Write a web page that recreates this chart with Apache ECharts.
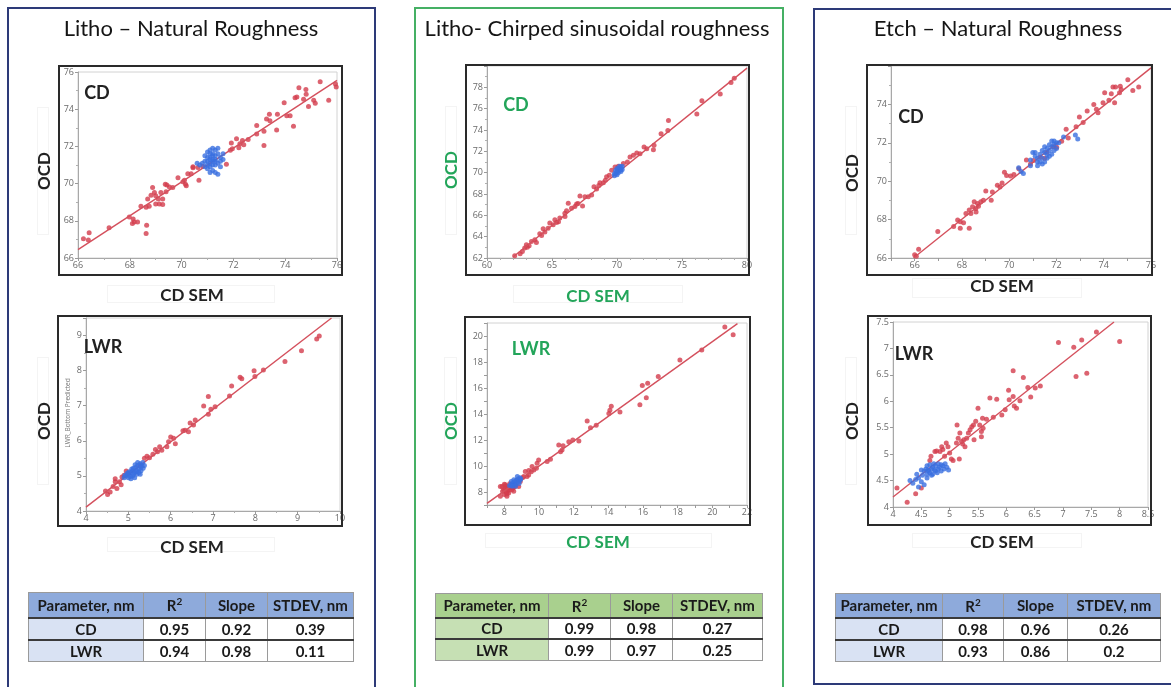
<!DOCTYPE html>
<html><head><meta charset="utf-8">
<script src="https://cdn.jsdelivr.net/npm/echarts@6/dist/echarts.min.js"></script>
<style>
body{margin:0;background:#fff;font-family:Lato,'Open Sans',sans-serif;}
#wrap{position:relative;width:1171px;height:687px;overflow:hidden;background:#fff;}
#chart{position:absolute;left:0;top:0;width:1171px;height:687px;}
.c{position:absolute;transform:translate(-50%,-50%);white-space:nowrap;line-height:1;}
.panel{position:absolute;box-sizing:border-box;}
.frame{position:absolute;box-sizing:border-box;border:2px solid #2a2a2a;pointer-events:none;}
.faint{position:absolute;box-sizing:border-box;border:1px solid #f4f4f4;}
.title{font-size:22px;color:#151515;}
.lab{font-weight:bold;font-size:18px;color:#222;}
.ax{font-weight:bold;font-size:17px;color:#222;}
.rot{transform:translate(-50%,-50%) rotate(-90deg);}
.green{color:#23a55a;}
table.t{position:absolute;border-collapse:collapse;font-weight:bold;font-size:15px;color:#1a1a1a;table-layout:fixed;}
table.t td{text-align:center;padding:0;border:1px solid #9a9a9a;background:#fff;white-space:nowrap;overflow:hidden;}
table.t tr.h td{border-bottom:2px solid #3a3a3a;}
table.t tr.r1 td{border-bottom:2px solid #3a3a3a;}
</style></head>
<body><div id="wrap"><div id="chart"></div></div>
<script>
// ---------------- data ----------------
const panelTitles = ['Litho \u2013 Natural Roughness', 'Litho- Chirped sinusoidal roughness', 'Etch \u2013 Natural Roughness'];
const tableHeader = ['Parameter, nm', 'R<sup style="font-size:10px">2</sup>', 'Slope', 'STDEV, nm'];
const tableParams = ['CD', 'LWR'];
const tableLithoNat = [['0.95','0.92','0.39'],['0.94','0.98','0.11']];
const tableLithoChirp = [['0.99','0.98','0.27'],['0.99','0.97','0.25']];
const tableEtchNat = [['0.98','0.96','0.26'],['0.93','0.86','0.2']];

const litCdRed = [[66.21,67.04],[66.43,67.36],[66.4,66.97],[67.2,67.62],[67.98,68.2],[68.13,68.1],[68.1,67.85],[68.17,67.94],[68.3,67.94],[68.65,67.76],[68.63,67.32],[68.63,68.73],[68.43,68.78],[68.75,68.78],[68.69,69.17],[68.88,69.79],[68.95,69.52],[69.0,69.35],[68.82,69.38],[69.1,69.17],[69.2,69.52],[69.27,69.17],[69.4,69.56],[69.14,68.9],[69.0,68.9],[69.27,68.87],[69.37,69.96],[69.43,69.93],[69.53,69.82],[69.66,69.79],[69.86,70.32],[70.05,70.1],[70.15,69.96],[70.18,69.88],[70.11,70.18],[70.24,70.53],[70.37,70.53],[70.44,70.85],[70.67,70.18],[70.82,70.93],[70.44,70.9],[70.63,70.87],[71.73,71.04],[71.88,71.79],[71.96,71.88],[71.92,72.18],[72.12,72.41],[72.25,72.14],[72.35,72.32],[72.21,71.93],[72.4,72.09],[72.57,72.37],[72.9,72.67],[72.9,73.12],[73.18,72.81],[73.18,72.05],[73.28,73.47],[73.39,73.73],[73.41,73.38],[73.67,72.88],[73.7,73.73],[73.96,74.35],[74.06,73.65],[74.19,73.65],[74.32,73.08],[74.38,74.62],[74.45,74.65],[74.53,75.15],[74.8,75.06],[74.81,74.8],[74.71,74.53],[74.9,74.14],[75.1,74.48],[75.16,74.32],[75.35,75.47],[75.68,74.48],[75.94,75.36],[75.97,75.2]];
const litCdBlue = [[71.0,71.2],[71.1,71.4],[71.2,71.0],[71.3,71.3],[71.1,70.9],[71.2,71.6],[71.0,71.7],[71.3,71.8],[71.4,71.1],[71.2,71.3],[71.1,71.1],[71.3,71.5],[71.0,70.8],[71.1,70.6],[71.4,70.5],[70.7,71.0],[70.8,71.1],[70.9,71.2],[71.5,71.4],[71.5,71.2],[71.6,71.3],[71.2,71.9],[71.1,71.8],[70.9,71.5],[71.0,71.4],[71.3,71.0],[71.2,70.7],[71.4,71.6],[71.2,71.2],[71.1,71.3],[71.3,71.2],[70.6,71.1],[71.5,70.9],[71.0,71.0],[71.4,71.9],[71.2,71.5],[70.9,70.9],[71.3,70.6],[71.6,71.6],[71.1,71.6]];
const litCdFit = [[66,66.45],[76,75.55]];

const litLwrRed = [[4.46,4.57],[4.51,4.47],[4.57,4.54],[4.64,4.7],[4.69,4.83],[4.69,4.92],[4.73,4.64],[4.79,4.83],[4.83,4.75],[4.85,4.97],[4.9,5.02],[4.95,5.14],[5.0,5.07],[5.28,5.3],[5.38,5.5],[5.44,5.56],[5.5,5.52],[5.58,5.62],[5.64,5.75],[5.69,5.69],[5.74,5.83],[5.79,5.73],[5.91,5.83],[5.95,5.97],[6.0,6.11],[6.07,6.07],[6.11,5.92],[6.29,6.29],[6.34,6.3],[6.42,6.26],[6.46,6.51],[6.54,6.45],[6.58,6.59],[6.78,6.99],[6.89,7.26],[6.89,6.76],[6.95,6.9],[7.05,6.97],[7.39,7.28],[7.44,7.56],[7.64,7.81],[7.68,7.77],[7.97,8.0],[7.99,7.83],[8.19,8.02],[8.7,8.26],[9.09,8.57],[9.45,8.9],[9.51,8.99]];
const litLwrBlue = [[4.9,4.95],[4.95,5.0],[5.0,5.05],[5.0,4.95],[5.05,5.1],[5.05,4.98],[5.1,5.15],[5.1,5.0],[5.12,5.22],[5.15,5.1],[5.15,4.95],[5.18,5.25],[5.2,5.15],[5.2,5.05],[5.22,5.3],[5.25,5.2],[5.25,5.1],[5.28,5.35],[5.3,5.25],[5.3,5.15],[5.32,5.3],[5.35,5.22],[5.38,5.3],[5.08,5.2],[5.02,5.12],[4.98,5.08],[5.12,5.05],[5.18,5.12],[5.22,5.38],[5.28,5.05],[4.92,5.02],[5.06,4.92],[5.16,5.32],[5.34,5.38]];
const litLwrFit = [[4,4.11],[9.8,9.5]];

const chirpCdRed = [[62.13,62.2],[62.72,62.62],[62.9,62.93],[63.03,63.24],[63.24,63.15],[63.42,63.55],[63.68,63.71],[63.8,63.46],[64.06,64.27],[64.32,64.74],[64.45,64.43],[64.7,64.8],[64.83,65.27],[65.09,65.11],[65.22,65.58],[65.35,65.33],[65.6,65.74],[65.99,66.2],[66.12,66.44],[66.25,67.13],[66.5,66.66],[66.76,66.82],[66.89,67.07],[67.15,67.81],[67.35,66.88],[67.53,67.75],[67.79,67.75],[68.05,67.9],[68.23,68.68],[68.43,68.46],[68.69,69.05],[68.95,69.05],[69.2,69.61],[69.41,69.76],[69.59,70.23],[69.85,70.54],[70.1,70.6],[70.49,70.85],[70.8,71.0],[71.0,71.47],[71.26,71.63],[71.52,71.84],[71.77,71.78],[72.08,72.4],[72.29,72.25],[72.8,72.16],[72.85,72.56],[73.39,73.65],[73.91,73.96],[73.96,74.89],[76.14,75.5],[76.53,76.75],[77.94,77.37],[78.77,78.46],[79.02,78.86],[62.55,62.4],[63.1,63.0],[64.2,64.1],[65.5,65.4],[66.0,65.9],[67.0,67.1],[68.6,68.8],[69.1,69.3]];
const chirpCdBlue = [[69.8,69.7],[69.9,69.9],[70.0,70.1],[70.1,70.3],[70.2,70.4],[70.3,70.5],[70.4,70.6],[70.0,69.8],[70.1,70.0],[70.2,70.2],[70.3,70.3],[69.9,70.2],[70.4,70.3],[70.2,70.6],[69.8,69.9],[70.0,70.4],[70.3,70.1]];
const chirpCdFit = [[62,62.1],[80,79.8]];

const chirpLwrRed = [[7.77,7.67],[7.87,8.43],[7.96,8.18],[8.06,8.56],[8.12,7.97],[8.19,8.31],[8.25,7.92],[8.35,8.43],[8.44,8.18],[8.54,8.05],[8.0,7.8],[8.31,8.64],[8.92,8.81],[9.12,9.2],[9.21,9.58],[9.31,9.2],[9.41,9.65],[9.6,9.96],[9.7,9.7],[9.85,9.83],[9.89,10.21],[9.98,10.47],[10.47,10.34],[10.66,10.52],[11.14,11.61],[11.24,11.1],[11.39,11.56],[11.33,11.23],[11.72,11.87],[11.95,12.0],[12.3,11.92],[12.78,13.47],[12.97,12.94],[13.3,13.14],[14.03,14.03],[14.09,14.28],[14.17,14.59],[14.67,14.16],[15.82,14.72],[15.96,16.19],[16.19,15.25],[16.27,16.37],[16.88,16.88],[18.13,18.15],[19.39,18.92],[20.72,20.7],[21.2,20.09],[7.77,8.43],[8.15,7.67],[8.64,8.56],[8.83,8.43],[8.05,8.3],[8.2,8.1],[8.1,8.45],[8.3,8.2],[7.9,8.05],[8.4,8.35],[8.15,7.85],[8.5,8.3],[8.0,8.6],[8.6,8.4],[9.05,9.1],[9.4,9.3],[9.55,9.55]];
const chirpLwrBlue = [[8.3,8.5],[8.4,8.6],[8.5,8.7],[8.5,8.5],[8.6,8.8],[8.6,8.6],[8.7,8.9],[8.7,8.7],[8.8,9.0],[8.8,8.8],[8.9,9.1],[8.9,8.9],[8.4,8.8],[8.55,8.95],[8.75,9.2],[8.85,8.65],[8.65,8.45],[8.45,8.45],[8.95,9.0]];
const chirpLwrFit = [[7,7.12],[21.45,20.95]];

const etchCdRed = [[66.0,66.17],[66.17,66.46],[66.07,66.09],[66.98,67.38],[67.65,67.64],[67.82,67.98],[67.93,67.89],[68.07,67.84],[67.93,67.55],[68.31,67.55],[68.17,68.32],[68.31,68.5],[68.38,68.32],[68.45,68.67],[68.52,68.93],[68.59,68.58],[68.66,68.84],[68.8,68.93],[68.91,69.01],[69.01,69.49],[69.24,69.01],[69.29,69.44],[69.5,69.79],[69.61,69.7],[69.8,70.47],[69.89,70.3],[70.06,70.27],[70.2,70.35],[70.41,70.65],[70.73,71.11],[71.03,71.08],[71.31,71.25],[71.59,71.51],[71.87,71.8],[72.01,71.77],[72.22,72.08],[72.41,72.71],[72.5,72.25],[72.83,72.83],[72.97,73.35],[73.13,73.06],[73.3,73.66],[73.58,74.0],[73.69,73.75],[73.76,73.57],[73.97,74.09],[74.04,74.61],[74.22,74.21],[74.32,74.55],[74.46,74.09],[74.5,74.9],[74.67,74.61],[74.7,74.95],[75.02,75.29],[75.23,74.73],[75.48,74.9],[74.39,74.9],[74.74,74.78],[68.6,68.4],[68.7,68.7],[69.7,69.9],[70.9,70.9],[71.5,71.2]];
const etchCdBlue = [[70.5,70.5],[70.4,70.7],[70.6,70.4],[70.9,71.1],[71.0,71.5],[71.1,71.3],[71.2,71.0],[71.2,71.2],[71.3,71.4],[71.4,71.6],[71.4,71.2],[71.5,71.5],[71.5,71.8],[71.6,71.4],[71.6,71.7],[71.7,71.9],[71.7,71.6],[71.8,71.8],[71.8,72.1],[71.9,71.9],[71.9,72.1],[72.0,72.0],[72.0,71.7],[71.3,71.0],[71.2,70.8],[71.6,71.2],[71.8,71.4],[72.3,72.3],[72.8,72.4],[72.9,72.2],[71.1,71.5],[70.9,70.8],[71.7,71.3],[72.1,72.0],[71.5,71.0],[71.4,70.9],[71.9,71.6]];
const etchCdFit = [[65.95,66],[76,75.9]];

const etchLwrRed = [[4.07,4.36],[4.25,4.09],[4.4,4.25],[4.5,4.36],[4.65,4.88],[4.67,4.96],[4.74,5.05],[4.77,5.06],[4.83,5.05],[4.86,5.14],[4.88,5.09],[4.91,4.96],[4.94,5.21],[4.97,5.14],[5.0,5.02],[5.03,4.91],[5.06,4.88],[5.12,5.21],[5.13,5.55],[5.15,5.3],[5.17,4.91],[5.18,5.4],[5.21,5.24],[5.23,5.19],[5.25,5.27],[5.27,5.14],[5.3,5.3],[5.33,5.4],[5.36,5.46],[5.39,5.52],[5.42,5.55],[5.43,5.27],[5.46,5.62],[5.5,5.87],[5.53,5.55],[5.56,5.43],[5.56,5.33],[5.59,5.49],[5.58,5.68],[5.65,5.66],[5.71,6.06],[5.77,5.7],[5.83,6.04],[5.92,5.74],[5.98,5.84],[6.04,6.21],[6.05,6.03],[6.12,6.58],[6.12,6.09],[6.14,5.91],[6.18,5.87],[6.24,6.01],[6.3,6.45],[6.38,6.26],[6.43,6.08],[6.51,6.25],[6.6,6.29],[6.92,7.11],[7.19,7.02],[7.23,6.47],[7.33,7.16],[7.42,6.53],[7.59,7.31],[8.0,7.13]];
const etchLwrBlue = [[4.3,4.5],[4.35,4.45],[4.4,4.52],[4.42,4.62],[4.45,4.55],[4.5,4.48],[4.52,4.6],[4.55,4.42],[4.55,4.68],[4.58,4.72],[4.6,4.62],[4.6,4.78],[4.62,4.7],[4.65,4.65],[4.65,4.8],[4.68,4.72],[4.7,4.62],[4.7,4.75],[4.72,4.82],[4.75,4.68],[4.75,4.78],[4.78,4.65],[4.8,4.72],[4.8,4.82],[4.82,4.75],[4.85,4.68],[4.85,4.8],[4.88,4.78],[4.9,4.72],[4.92,4.82],[4.95,4.75],[4.98,4.7],[4.6,4.55],[4.5,4.7],[4.45,4.38],[4.68,4.6],[4.73,4.7],[4.63,4.68]];
const etchLwrFit = [[4,4.19],[7.9,7.5]];

// ---------------- layout ----------------
const RED = '#d33c4c', BLUE = '#3a6fe0', LINE = '#d4505d';
const isInt = v => Math.abs(v - Math.round(v)) < 1e-9;
const isEven = v => isInt(v) && Math.round(v) % 2 === 0;
const plots = [
  {grid:{left:78,top:72,width:259,height:186}, x:{min:66,max:76,interval:2,minor:2}, y:{min:66,max:76,interval:2,minor:2}, red:litCdRed, blue:litCdBlue, fit:litCdFit},
  {grid:{left:86,top:318,width:254,height:193}, x:{min:4,max:10,interval:1,minor:2}, y:{min:4,max:9.5,interval:1,minor:2,fmt:isInt}, red:litLwrRed, blue:litLwrBlue, fit:litLwrFit},
  {grid:{left:487,top:66,width:260,height:192}, x:{min:60,max:80,interval:5,minor:5}, y:{min:62,max:80,interval:2,minor:2,fmt:v=>v<79}, red:chirpCdRed, blue:chirpCdBlue, fit:chirpCdFit},
  {grid:{left:487,top:323,width:260,height:182}, x:{min:7,max:22,interval:1,fmt:isEven}, y:{min:7,max:21,interval:1,fmt:isEven}, red:chirpLwrRed, blue:chirpLwrBlue, fit:chirpLwrFit},
  {grid:{left:891,top:66,width:260,height:192}, x:{min:65,max:76,interval:1,fmt:isEven}, y:{min:66,max:76,interval:2,minor:2,fmt:v=>v<75}, red:etchCdRed, blue:etchCdBlue, fit:etchCdFit},
  {grid:{left:893,top:322,width:255,height:185}, x:{min:4,max:8.5,interval:0.5}, y:{min:4,max:7.5,interval:0.5}, red:etchLwrRed, blue:etchLwrBlue, fit:etchLwrFit}
];

function axis(a, i, dim) {
  return {
    type:'value', gridIndex:i, min:a.min, max:a.max, interval:a.interval,
    axisLine:{show:true, onZero:false, lineStyle:{color:'#a8a8a8', width:1}},
    axisTick:{show:true, inside:false, length:3, lineStyle:{color:'#9a9a9a'}},
    minorTick:{show:!!a.minor, splitNumber:a.minor||5, length:2, lineStyle:{color:'#b0b0b0'}},
    splitLine:{show:false},
    axisLabel:{fontSize:9, color:'#6a6a6a', fontFamily:'Open Sans', margin:dim==='x'?3:4,
      formatter: v => (a.fmt && !a.fmt(v)) ? '' : String(+v.toFixed(2))}
  };
}

const option = {animation:false, grid:[], xAxis:[], yAxis:[], series:[]};
plots.forEach((p, i) => {
  option.grid.push(Object.assign({show:true, borderColor:'#d2d2d2', borderWidth:1, backgroundColor:'#fff'}, p.grid));
  option.xAxis.push(axis(p.x, i, 'x'));
  option.yAxis.push(axis(p.y, i, 'y'));
  option.series.push({type:'scatter', xAxisIndex:i, yAxisIndex:i, data:p.red, symbolSize:5, itemStyle:{color:RED}, silent:true, z:2});
  option.series.push({type:'line', xAxisIndex:i, yAxisIndex:i, data:p.fit, showSymbol:false, symbol:'none', lineStyle:{color:LINE, width:1.4}, silent:true, z:3});
  option.series.push({type:'scatter', xAxisIndex:i, yAxisIndex:i, data:p.blue, symbolSize:5, itemStyle:{color:BLUE}, silent:true, z:4});
});
echarts.init(document.getElementById('chart'), null, {renderer:'canvas'}).setOption(option);

// ---------------- overlays ----------------
const wrap = document.getElementById('wrap');
function el(tag, cls, style, html) {
  const d = document.createElement(tag); if (cls) d.className = cls;
  Object.assign(d.style, style); if (html !== undefined) d.innerHTML = html; wrap.appendChild(d); return d;
}
// panels
el('div','panel',{left:'7px',top:'7px',width:'369px',height:'720px',border:'2px solid #2d3a78'});
el('div','panel',{left:'414px',top:'7px',width:'370px',height:'720px',border:'2px solid #45b064'});
el('div','panel',{left:'813px',top:'8px',width:'380px',height:'677px',border:'2px solid #2d3a78'});
// titles
el('div','c title',{left:'191px',top:'28px'}, panelTitles[0]);
el('div','c title',{left:'597px',top:'28px'}, panelTitles[1]);
el('div','c title',{left:'998px',top:'28px'}, panelTitles[2]);
// faint label boxes
[[37,107,12,128],[37,357,12,128],[445,106,12,129],[444,357,13,128],[845,106,12,129],[845,357,12,128],
 [107,285,168,18],[107,537,168,15],[513,285,170,18],[485,533,227,15],[912,278,170,20],[912,533,170,15]]
 .forEach(b => el('div','faint',{left:b[0]+'px',top:b[1]+'px',width:b[2]+'px',height:b[3]+'px'}));
// frames
[[58,65,285,211],[57,315,286,212],[465,64,285,212],[464,316,287,210],[866,64,287,212],[867,315,285,211]]
 .forEach(f => el('div','frame',{left:f[0]+'px',top:f[1]+'px',width:f[2]+'px',height:f[3]+'px'}));
// axis titles & inner labels
const labs = [
  ['OCD','ax rot',43,171],['OCD','ax rot',43,421],['CD SEM','ax',192,294],['CD SEM','ax',192,546],
  ['OCD','ax rot green',450,170],['OCD','ax rot green',450,421],['CD SEM','ax green',598,295],['CD SEM','ax green',598,541],
  ['OCD','ax rot',851,173],['OCD','ax rot',851,421],['CD SEM','ax',1002,285],['CD SEM','ax',1002,541]
];
labs.forEach(l => el('div','c '+l[1],{left:l[2]+'px',top:l[3]+'px'}, l[0]));
[['CD','lab',97,92,''],['LWR','lab',103,346,''],['CD','lab',516,104,'green'],['LWR','lab',531,348,'green'],['CD','lab',911,116,''],['LWR','lab',914,353,'']]
 .forEach(l => el('div','c '+l[1]+' '+l[4],{left:l[2]+'px',top:l[3]+'px'}, l[0]));
el('div','c rot',{left:'68px',top:'413px',fontSize:'6.5px',color:'#777',fontFamily:'Open Sans'}, 'LWR_Bottom Predicted');

// tables
function table(left, top, widths, heights, head, first, rows, hb, fb) {
  const t = document.createElement('table'); t.className = 't';
  Object.assign(t.style, {left:left+'px', top:top+'px', width:widths.reduce((a,b)=>a+b,0)+'px'});
  const cg = document.createElement('colgroup');
  widths.forEach(w => { const c = document.createElement('col'); c.style.width = w+'px'; cg.appendChild(c); });
  t.appendChild(cg);
  const hr = t.insertRow(); hr.className = 'h'; hr.style.height = heights[0]+'px';
  head.forEach(h => { const c = hr.insertCell(); c.innerHTML = h; c.style.background = hb; });
  rows.forEach((r, i) => {
    const tr = t.insertRow(); tr.className = 'r'+(i+1); tr.style.height = heights[i+1]+'px';
    const c0 = tr.insertCell(); c0.textContent = first[i]; c0.style.background = fb;
    r.forEach(v => { const c = tr.insertCell(); c.textContent = v; });
  });
  wrap.appendChild(t);
}
table(28, 592, [115,62,62,86], [25,22,22], tableHeader, tableParams, tableLithoNat, '#8eaadb', '#d9e2f3');
table(435, 593, [113,62,62,90], [24,21,22], tableHeader, tableParams, tableLithoChirp, '#a9d08e', '#c6e0b4');
table(835, 593, [107,61,64,93], [24,22,22], tableHeader, tableParams, tableEtchNat, '#8eaadb', '#d9e2f3');
</script></body></html>
